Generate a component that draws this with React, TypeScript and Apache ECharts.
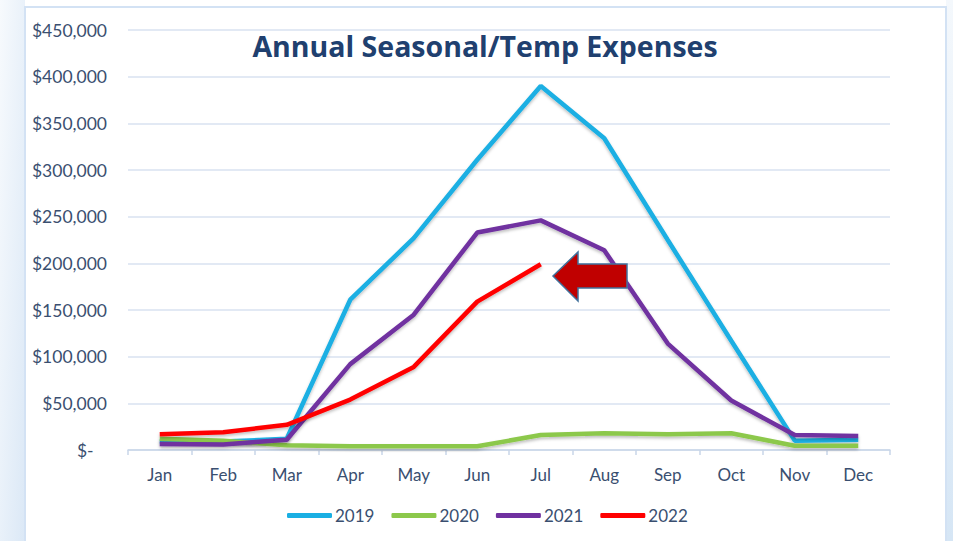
import React, { useEffect, useRef } from "react";
import * as echarts from "echarts";

const months = ["Jan", "Feb", "Mar", "Apr", "May", "Jun", "Jul", "Aug", "Sep", "Oct", "Nov", "Dec"];
const s2019 = [9000, 9000, 12000, 161000, 227000, 311000, 390000, 334000, 225000, 117000, 10000, 11000];
const s2020 = [12000, 10000, 5000, 4000, 4000, 4000, 16000, 18000, 17000, 18000, 4500, 4500];
const s2021 = [6500, 6000, 11000, 92000, 145000, 233000, 246000, 214000, 114000, 53000, 16000, 15000];
const s2022 = [17000, 19000, 27000, 54000, 89000, 159000, 199000];
const yearNames = ["2019", "2020", "2021", "2022"];
const yearColors = ["#1aafe3", "#8cc84b", "#7030a0", "#ff0000"];

export default function App() {
  const ref = useRef<HTMLDivElement>(null);
  useEffect(() => {
    if (!ref.current) return;
    const chart = echarts.init(ref.current, undefined, { renderer: "svg" });
    const seriesData = [s2019, s2020, s2021, s2022];
    const labelColor = "#3a4f70";
    chart.setOption({
      animation: false,
      backgroundColor: "#ffffff",
      title: {
        text: "Annual Seasonal/Temp Expenses",
        left: 480,
        top: 26,
        textAlign: "center",
        textStyle: { fontFamily: "Open Sans", fontWeight: "bold", fontSize: 28.5, color: "#20406f" },
      },
      grid: { left: 128, right: 63, top: 30, bottom: 91 },
      legend: {
        bottom: 17,
        left: 287,
        padding: 0,
        itemWidth: 45,
        itemHeight: 5,
        itemGap: 17,
        icon: "roundRect",
        textStyle: { fontFamily: "Lato", fontSize: 17, color: labelColor, padding: [0, 0, 0, -2] },
        data: yearNames,
      },
      xAxis: {
        type: "category",
        data: months,
        boundaryGap: true,
        axisLine: { lineStyle: { color: "#c9d6e8", width: 1.5 } },
        axisTick: { show: true, length: 5, lineStyle: { color: "#c9d6e8", width: 1.5 } },
        axisLabel: { fontFamily: "Lato", fontSize: 17, color: labelColor, margin: 16 },
      },
      yAxis: {
        type: "value",
        min: 0,
        max: 450000,
        interval: 50000,
        axisLine: { show: false },
        axisTick: { show: false },
        splitLine: { lineStyle: { color: "#d8e2f0", width: 1.5 } },
        axisLabel: {
          fontFamily: "Lato",
          fontSize: 17.5,
          color: labelColor,
          margin: 21,
          formatter: (v: number) => (v === 0 ? "$-   " : "$" + v.toLocaleString("en-US")),
        },
      },
      series: seriesData.map((d, i) => ({
        name: yearNames[i],
        type: "line",
        data: d,
        symbol: "none",
        color: yearColors[i],
        lineStyle: {
          width: 4.5,
          color: yearColors[i],
          shadowColor: "rgba(0,0,0,0.25)",
          shadowBlur: 3,
          shadowOffsetY: 2,
        },
      })),
      graphic: [
        {
          type: "rect",
          shape: { x: 0, y: 0, width: 25, height: 541 },
          style: {
            fill: new echarts.graphic.LinearGradient(0, 0, 1, 1, [
              { offset: 0, color: "#f7fafd" },
              { offset: 1, color: "#dbe8f6" },
            ]),
          },
          z: -10,
        },
        {
          type: "rect",
          shape: { x: 946, y: 0, width: 7, height: 541 },
          style: {
            fill: new echarts.graphic.LinearGradient(0, 0, 0, 1, [
              { offset: 0, color: "#f4f8fc" },
              { offset: 1, color: "#d6e6f5" },
            ]),
          },
          z: -10,
        },
        {
          type: "polyline",
          shape: { points: [[25, 545], [25, 7], [946, 7], [946, 545]] },
          style: { stroke: "#d3e2f4", lineWidth: 2, fill: null },
          z: -5,
        },
        {
          type: "polygon",
          shape: {
            points: [
              [553, 276],
              [578, 252],
              [578, 264],
              [627, 264],
              [627, 288],
              [578, 288],
              [578, 301],
            ],
          },
          style: { fill: "#c00000", stroke: "#41719c", lineWidth: 1.5 },
          z: 100,
        },
      ],
    });
    return () => chart.dispose();
  }, []);
  return (
    <div
      ref={ref}
      style={{ position: "fixed", left: 0, top: 0, width: 953, height: 541 }}
    />
  );
}
